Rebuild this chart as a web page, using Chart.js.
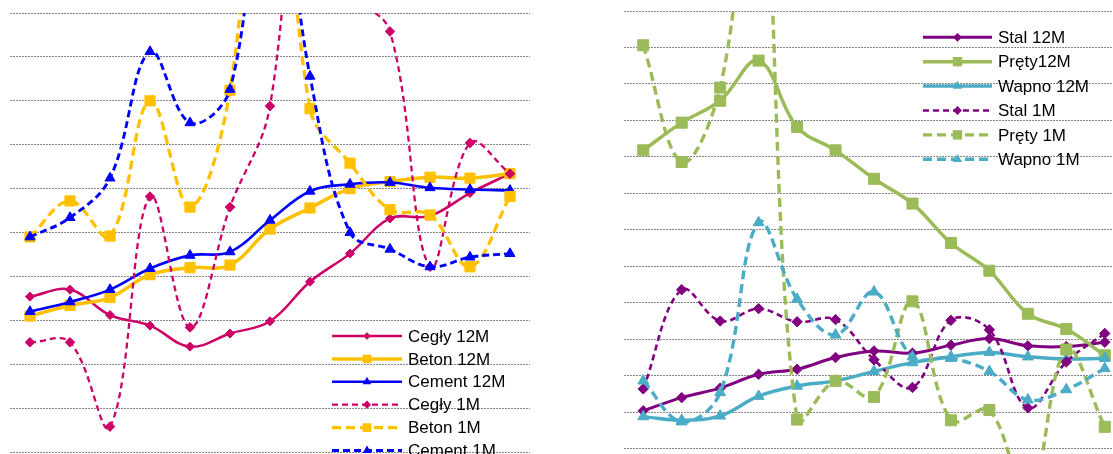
<!DOCTYPE html>
<html>
<head>
<meta charset="utf-8">
<script src="https://cdn.jsdelivr.net/npm/chart.js@4/dist/chart.umd.min.js"></script>
<style>
  html, body { margin: 0; padding: 0; background: #fff; overflow: hidden; width: 1113px; height: 454px; }
  .wrap { position: absolute; }
  #w1 { left: 0; top: 0; width: 560px; height: 520px; }
  #w2 { left: 600px; top: 0; width: 540px; height: 520px; }
</style>
</head>
<body>
<div class="wrap" id="w1"><canvas id="c1"></canvas></div>
<div class="wrap" id="w2"><canvas id="c2"></canvas></div>
<script>
// ---- data ----
const months = ['I','II','III','IV','V','VI','VII','VIII','IX','X','XI','XII','I '];

// left panel
const cegly12M  = [98.77, 98.85, 98.56, 98.44, 98.20, 98.35, 98.49, 98.94, 99.26, 99.66, 99.69, 99.95, 100.17];
const beton12M  = [98.55, 98.67, 98.76, 99.02, 99.10, 99.13, 99.54, 99.78, 100.00, 100.08, 100.13, 100.12, 100.17];
const cement12M = [98.60, 98.71, 98.85, 99.09, 99.24, 99.28, 99.64, 99.97, 100.05, 100.07, 100.01, 99.99, 99.98];
const cegly1M   = [98.25, 98.25, 97.29, 99.91, 98.42, 99.79, 100.94, 105.20, 102.30, 101.79, 99.11, 100.52, 100.17];
const beton1M   = [99.45, 99.86, 99.46, 101.00, 99.79, 101.12, 105.30, 100.91, 100.29, 99.76, 99.70, 99.11, 99.91];
const cement1M  = [99.45, 99.67, 100.12, 101.56, 100.75, 101.13, 104.10, 101.28, 99.50, 99.31, 99.11, 99.22, 99.26];

// right panel
const stal12M   = [97.52, 97.70, 97.83, 98.02, 98.09, 98.25, 98.34, 98.31, 98.42, 98.51, 98.41, 98.40, 98.46];
const prety12M  = [101.09, 101.47, 101.77, 102.32, 101.41, 101.09, 100.70, 100.36, 99.82, 99.44, 98.85, 98.64, 98.28];
const wapno12M  = [97.44, 97.39, 97.45, 97.72, 97.86, 97.93, 98.06, 98.18, 98.26, 98.32, 98.26, 98.23, 98.24];
const stal1M    = [97.82, 99.18, 98.75, 98.92, 98.74, 98.77, 98.22, 97.84, 98.76, 98.63, 97.56, 98.19, 98.58];
const prety1M   = [102.53, 100.93, 101.95, 105.40, 97.40, 97.93, 97.71, 99.02, 97.39, 97.53, 96.30, 98.36, 97.30];
const wapno1M   = [97.93, 97.37, 97.77, 100.10, 99.05, 98.56, 99.15, 98.26, 98.24, 98.06, 97.67, 97.81, 98.10];

const leftLabels  = ['Cegły 12M', 'Beton 12M', 'Cement 12M', 'Cegły 1M', 'Beton 1M', 'Cement 1M'];
const rightLabels = ['Stal 12M', 'Pręty12M', 'Wapno 12M', 'Stal 1M', 'Pręty 1M', 'Wapno 1M'];

// ---- styling ----
const C_CEG = '#CC0066', C_BET = '#FFC000', C_CEM = '#0000FF';
const C_STAL = '#800080', C_PRE = '#9BBB59', C_WAP = '#4BACC6';

function ds(label, data, color, width, dash, style, radius, idx) {
  return {
    label, data,
    borderColor: color, backgroundColor: color,
    pointBackgroundColor: color, pointBorderColor: color, pointBorderWidth: 1,
    borderWidth: width, borderDash: dash,
    pointStyle: style, pointRadius: radius, pointHoverRadius: radius,
    tension: 0.38, fill: false, clip: 0, order: 10 - idx
  };
}

function drawMarker(ctx, style, x, y, r, color) {
  ctx.fillStyle = color;
  ctx.beginPath();
  if (style === 'rectRot') {
    ctx.moveTo(x - r, y); ctx.lineTo(x, y - r); ctx.lineTo(x + r, y); ctx.lineTo(x, y + r);
  } else if (style === 'rect') {
    const s = Math.SQRT1_2 * r;
    ctx.rect(x - s, y - s, 2 * s, 2 * s);
  } else {
    const w = r * Math.sqrt(3) / 2;
    ctx.moveTo(x, y - r); ctx.lineTo(x + w, y + r / 2); ctx.lineTo(x - w, y + r / 2);
  }
  ctx.closePath();
  ctx.fill();
}

const boxLegend = {
  id: 'boxLegend',
  afterDatasetsDraw(chart, args, o) {
    const ctx = chart.ctx;
    ctx.save();
    chart.data.datasets.forEach((d, i) => {
      const y = o.y + i * o.rowH;
      ctx.strokeStyle = d.borderColor;
      ctx.lineWidth = d.borderWidth;
      ctx.setLineDash(d.borderDash || []);
      ctx.beginPath();
      ctx.moveTo(o.x, y); ctx.lineTo(o.x + o.lineLen, y);
      ctx.stroke();
      ctx.setLineDash([]);
      drawMarker(ctx, d.pointStyle, o.x + o.lineLen / 2, y, d.pointRadius * 0.85, d.pointBackgroundColor);
      ctx.fillStyle = '#000';
      ctx.font = o.font;
      ctx.textBaseline = 'middle';
      ctx.textAlign = 'left';
      ctx.fillText(d.label, o.x + o.lineLen + o.gap, y + 1);
    });
    ctx.restore();
  }
};

function makeChart(id, datasets, yMin, yMax, pad, legend) {
  return new Chart(document.getElementById(id), {
    type: 'line',
    data: { labels: months, datasets },
    plugins: [boxLegend],
    options: {
      responsive: true, maintainAspectRatio: false, animation: false,
      layout: { padding: pad },
      plugins: { legend: { display: false }, tooltip: { enabled: false }, boxLegend: legend },
      scales: {
        x: { display: false, offset: true },
        y: {
          min: yMin, max: yMax,
          ticks: { display: false, stepSize: 0.5 },
          grid: { color: '#858585', lineWidth: 1, drawTicks: false },
          border: { display: false, dash: [2, 1] },
          afterFit: (s) => { s.width = 0; }
        }
      }
    }
  });
}

makeChart('c1', [
  ds(leftLabels[0], cegly12M,  C_CEG, 2.5, [],     'rectRot', 4.5, 0),
  ds(leftLabels[1], beton12M,  C_BET, 3.5, [],     'rect',    7.2, 1),
  ds(leftLabels[2], cement12M, C_CEM, 2.6, [],     'triangle',5.8, 2),
  ds(leftLabels[3], cegly1M,   C_CEG, 2.3, [6, 4], 'rectRot', 4.8, 3),
  ds(leftLabels[4], beton1M,   C_BET, 3.3, [9, 5], 'rect',    7.2, 4),
  ds(leftLabels[5], cement1M,  C_CEM, 2.9, [7, 4], 'triangle',5.8, 5)
], 96.5, 102, { left: 10, top: 13, right: 30, bottom: 24 },
  { x: 332, y: 336, rowH: 22.9, lineLen: 70, gap: 6, font: '17px "Liberation Sans", Arial, sans-serif' });

makeChart('c2', [
  ds(rightLabels[0], stal12M,  C_STAL, 3,   [],     'rectRot', 5.2, 0),
  ds(rightLabels[1], prety12M, C_PRE,  3.5, [],     'rect',    7.8, 1),
  ds(rightLabels[2], wapno12M, C_WAP,  3.5, [],     'triangle',6.3, 2),
  ds(rightLabels[3], stal1M,   C_STAL, 2.6, [6, 4], 'rectRot', 5.2, 3),
  ds(rightLabels[4], prety1M,  C_PRE,  3.4, [9, 5], 'rect',    7.8, 4),
  ds(rightLabels[5], wapno1M,  C_WAP,  3.4, [9, 5], 'triangle',6.3, 5)
], 96.5, 103, { left: 24, top: 11, right: 16, bottom: 34.8 },
  { x: 323, y: 37.3, rowH: 24.4, lineLen: 69, gap: 6, font: '17px "Liberation Sans", Arial, sans-serif' });
</script>
</body>
</html>
